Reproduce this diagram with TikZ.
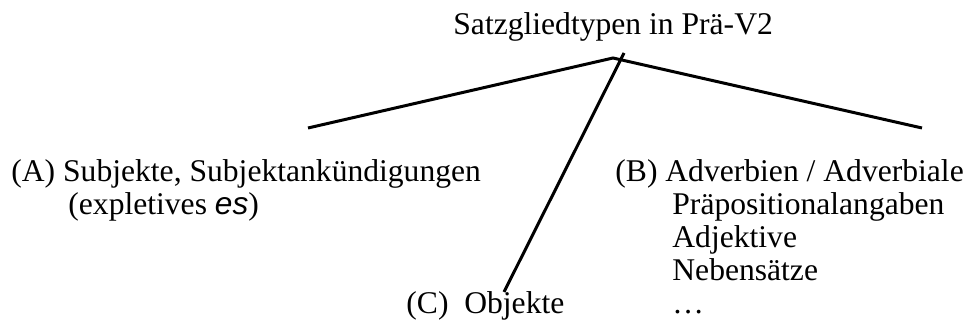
\documentclass[tikz,border=0pt]{standalone}
\usepackage{fontspec}
\setmainfont{Liberation Serif}
\newfontfamily\esfont{Liberation Sans}
\begin{document}
\begin{tikzpicture}[x=0.5pt,y=-0.5pt,
	txt/.style={anchor=base west,inner sep=0pt,font=\fontsize{15.8}{15.8}\selectfont},
	branch/.style={line width=1.5pt}]
	\useasboundingbox (0,0) rectangle (969,336);
	\node[txt] (root) at (453,35) {Satzgliedtypen in Prä-V2};
	\node[txt] (A) at (11,182) {(A) Subjekte, Subjektankündigungen};
	\node[txt] (A2) at (68,215) {(expletives {\esfont\itshape es})};
	\node[txt] (B) at (615,182) {(B) Adverbien / Adverbiale};
	\node[txt] (B2) at (672,215) {Präpositionalangaben};
	\node[txt] (B3) at (672,248) {Adjektive};
	\node[txt] (B4) at (672,281) {Nebensätze};
	\node[txt] (B5) at (672,314) {…};
	\node[txt] (C) at (406,314) {(C)\hspace{0.5em}Objekte};
	\coordinate (apex) at (613,58);
	\coordinate (aend) at (308,128);
	\coordinate (bend) at (922,128);
	\coordinate (ctop) at (624,53);
	\coordinate (cend) at (504,292);
	\draw[branch] (aend) -- (apex) -- (bend);
	\draw[branch] (ctop) -- (cend);
\end{tikzpicture}
\end{document}
